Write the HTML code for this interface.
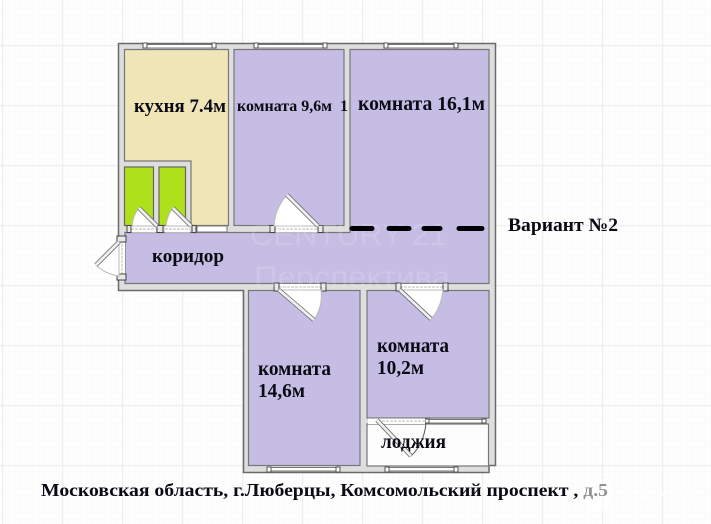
<!DOCTYPE html>
<html><head><meta charset="utf-8"><style>
html,body{margin:0;padding:0;background:#fff}
svg{display:block}
text{font-family:"Liberation Serif","Noto Serif CJK SC",serif;font-weight:bold;fill:#0a0a14}
</style></head><body>
<svg width="711" height="524" viewBox="0 0 711 524" xmlns="http://www.w3.org/2000/svg">
<defs>
<pattern id="minor" x="2" y="3" width="6" height="6" patternUnits="userSpaceOnUse">
<rect width="6" height="6" fill="#fefefe"/>
<path d="M0 0H6M0 0V6" stroke="#f8f8f8" stroke-width="1" fill="none"/>
</pattern>
<pattern id="major" x="2" y="45" width="60" height="60" patternUnits="userSpaceOnUse">
<path d="M0 .5H60M.5 0V60" stroke="#eeeeee" stroke-width="1.600" fill="none"/>
</pattern>
</defs>
<rect width="711" height="524" fill="url(#minor)"/>
<rect width="711" height="524" fill="url(#major)"/>

<!-- walls -->
<path d="M118.500 43.500H495.500V465.500H489V472.500H243.500V290.500H118.500Z" fill="#dedede" stroke="#6a6a6a" stroke-width="1.500"/>

<!-- rooms -->
<path d="M124.500 49.500H228.500V225.500H191V161H124.500Z" fill="#efe5b6" stroke="#777" stroke-width="1.200"/>
<rect x="124.500" y="167" width="29" height="58.500" fill="#afe01c" stroke="#666" stroke-width="1.200"/>
<rect x="159" y="167" width="26.500" height="58.500" fill="#afe01c" stroke="#666" stroke-width="1.200"/>
<rect x="234" y="49.500" width="110" height="176" fill="#c5bde3" stroke="#777" stroke-width="1.200"/>
<path d="M350 49.500H489V283.500H125V232.500H350Z" fill="#c5bde3" stroke="#777" stroke-width="1.200"/>
<rect x="248.500" y="290.500" width="111.500" height="175" fill="#c5bde3" stroke="#777" stroke-width="1.200"/>
<rect x="367" y="290.500" width="122" height="127.500" fill="#c5bde3" stroke="#777" stroke-width="1.200"/>
<rect x="367" y="424" width="121.500" height="42" fill="#fdfdfd" stroke="#777" stroke-width="1.200"/>

<!-- windows -->
<g fill="#fff" stroke="#777" stroke-width="1">
<rect x="145" y="44.500" width="69" height="3.500"/>
<rect x="256" y="44.500" width="69" height="3.500"/>
<rect x="386" y="44.500" width="70" height="3.500"/>
<rect x="269" y="467.500" width="69" height="3.500"/>
<rect x="387" y="467.500" width="69" height="3.500"/>
<rect x="427" y="419.500" width="57" height="3.500"/>
<rect x="197" y="226" width="30" height="6" />
</g>
<g fill="#fff" stroke="#555" stroke-width="1">
<rect x="143" y="43" width="4" height="5"/><rect x="212" y="43" width="4" height="5"/>
<rect x="254" y="43" width="4" height="5"/><rect x="323" y="43" width="4" height="5"/>
<rect x="384" y="43" width="4" height="5"/><rect x="454" y="43" width="4" height="5"/>
<rect x="267" y="467" width="4" height="5"/><rect x="336" y="467" width="4" height="5"/>
<rect x="385" y="467" width="4" height="5"/><rect x="454" y="467" width="4" height="5"/>
<rect x="425" y="419" width="4" height="4"/><rect x="482" y="419" width="4" height="4"/>
</g>

<!-- door openings -->
<g fill="#fff">
<rect x="131" y="226" width="25" height="6.500"/>
<rect x="165" y="226" width="25" height="6.500"/>
<rect x="274" y="226" width="44" height="6.500"/>
<rect x="119" y="240" width="6" height="36"/>
<rect x="279" y="284" width="42" height="6"/>
<rect x="400" y="284" width="43" height="6"/>
<rect x="368" y="418.500" width="57" height="5.500"/>
</g>
<g stroke="#bbb" stroke-width="1" stroke-dasharray="3 1" fill="none">
<path d="M131 229H156M165 229H190M274 229H318M122 240V276M279 287H321M400 287H443M378 421H425"/>
</g>
<!-- door jambs -->
<g fill="#e8e8e8" stroke="#444" stroke-width="1">
<path d="M127 225.500h4v7h-4zM157 225.500h6v7h-6zM192 225.500h4v7h-4zM270 225.500h5v7h-5zM318 225.500h5v7h-5z"/>
<path d="M117 236h9v6h-9zM117 274h9v6h-9z"/>
<path d="M274 283h5v8h-5zM321 283h5v8h-5zM396 283h5v8h-5zM443 283h5v8h-5z"/>
</g>

<!-- door swings -->
<g fill="#fff" stroke="#bbb" stroke-width="1">
<path d="M157 226L139 208Q133 215 132 226Z"/>
<path d="M191 226L173 208Q167 215 166 226Z"/>
<path d="M318 226L287 195Q275 208 274 226Z"/>
<path d="M119 242L96 265Q105 274 119 276Z"/>
<path d="M279 290L314 320Q323 306 321 290Z"/>
<path d="M400 290L431 319Q441 308 443 290Z"/>
<path d="M377 420L411 456Q424 444 426 423" fill="none" stroke="#555"/>
</g>
<g stroke="#666" stroke-width="4.400" fill="none"><path d="M157 226L139 208M191 226L173 208M318 226L287 195M119 242L96 265M279 290L314 320M400 290L431 319M377 420L411 456"/></g>
<g stroke="#f0f0f0" stroke-width="2.800" fill="none"><path d="M157 226L139 208M191 226L173 208M318 226L287 195M119 242L96 265M279 290L314 320M400 290L431 319M377 420L411 456"/></g>

<!-- watermark -->
<text x="250" y="245" font-size="31" textLength="197" lengthAdjust="spacingAndGlyphs" style="font-family:'Liberation Sans',sans-serif;font-weight:normal;fill:#fff;fill-opacity:.14">CENTURY 21</text>
<text x="254" y="287" font-size="30" textLength="196" lengthAdjust="spacingAndGlyphs" style="font-family:'Liberation Sans',sans-serif;font-weight:normal;fill:#fff;fill-opacity:.14">Перспектива</text>

<!-- dashes -->
<path d="M352 228.500H372M389 228.500H409M424 228.500H440M459 228.500H482" stroke="#000" stroke-width="5" stroke-linecap="round" fill="none"/>

<!-- labels -->
<text x="134" y="112" font-size="19" textLength="92" lengthAdjust="spacingAndGlyphs">кухня 7.4м</text>
<text x="237" y="111" font-size="15.500" textLength="111" xml:space="preserve" lengthAdjust="spacingAndGlyphs">комната 9,6м  1</text>
<text x="358" y="110" font-size="20" textLength="127" lengthAdjust="spacingAndGlyphs">комната 16,1м</text>
<text x="152" y="262" font-size="18.500" textLength="72" lengthAdjust="spacingAndGlyphs">коридор</text>
<text x="508" y="231" font-size="19" textLength="110" lengthAdjust="spacingAndGlyphs">Вариант №2</text>
<text x="258" y="375" font-size="19.500" textLength="73" lengthAdjust="spacingAndGlyphs">комната</text>
<text x="258" y="397" font-size="19.500" textLength="47" lengthAdjust="spacingAndGlyphs">14,6м</text>
<text x="377" y="352" font-size="19.500" textLength="72" lengthAdjust="spacingAndGlyphs">комната</text>
<text x="377" y="374" font-size="19.500" textLength="47" lengthAdjust="spacingAndGlyphs">10,2м</text>
<text x="381" y="448" font-size="19.500" textLength="65" lengthAdjust="spacingAndGlyphs">лоджия</text>
<text x="41" y="496" font-size="18" textLength="567" xml:space="preserve" lengthAdjust="spacingAndGlyphs">Московская область, г.Люберцы, Комсомольский проспект , д.5</text>

<!-- corner watermark -->
<circle cx="597" cy="494" r="17" fill="#fff" fill-opacity=".55"/>
<text x="627" y="501" font-size="17" textLength="68" style="font-family:'Liberation Sans',sans-serif;font-weight:normal;fill:#fff;fill-opacity:.8">АКУЛА</text>
</svg>
</body></html>
